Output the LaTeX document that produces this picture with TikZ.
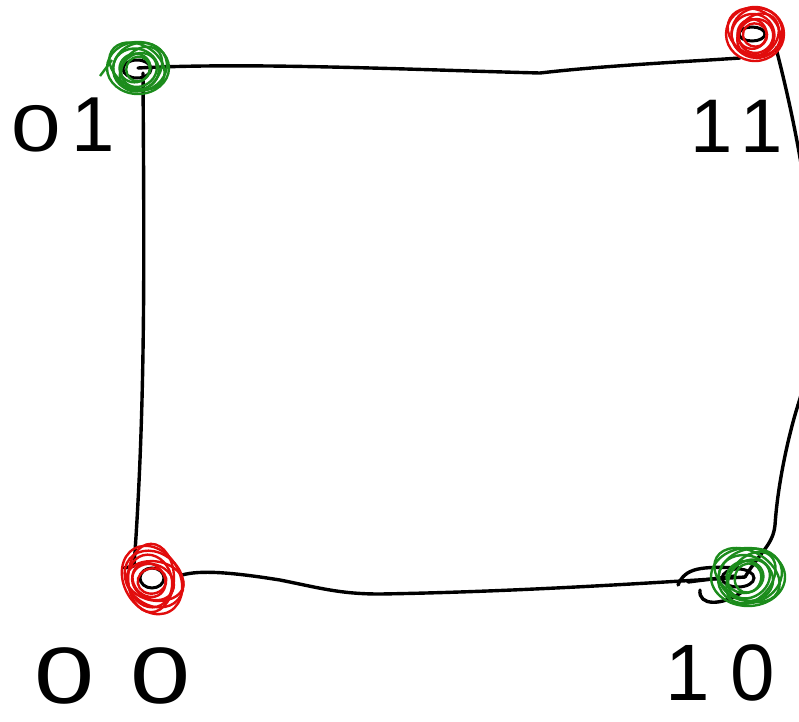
\documentclass[tikz,border=0pt]{standalone}
\usepackage{fontspec}
\usepackage{graphicx}
\setmainfont{Liberation Sans}
\definecolor{scred}{RGB}{225,12,12}
\definecolor{scgreen}{RGB}{28,140,28}
\newcommand\myscrib[6]{%
  \foreach \dx/\dy/\fa/\fb/\rr in {0/0/1/1/0, 2/-1/0.88/0.92/20, -2/1/0.74/0.78/-15, 1/2/0.6/0.62/35, -1/-2/0.95/0.82/-30, 3/1/0.8/0.7/50, -3/0/0.5/0.55/10, 0/1/0.4/0.45/70}
    \draw[#1, line width=2.4pt] (#2+\dx,#3+\dy) ellipse [x radius=\fa*#4, y radius=\fb*#5, rotate=#6+\rr];
}
\newcommand\wideo{\scalebox{1.35}[1]{0}}
\tikzset{
  sqedge/.style={black, line width=3.4pt, line cap=round, line join=round},
  inner/.style={black, line width=3pt},
  digit/.style={anchor=base, inner sep=0pt, text=black}
}
\begin{document}
\begin{tikzpicture}[x=1pt,y=-1pt]
\useasboundingbox (0,0) rectangle (799,721);
% corners
\coordinate (tl) at (138,68);
\coordinate (tr) at (754,36);
\coordinate (bl) at (152,579);
\coordinate (br) at (745,577);
\coordinate (r1) at (798,405);
% edges
\draw[sqedge] (tl) .. controls (250,62) and (420,70) .. (540,73) .. controls (600,66) and (680,62) .. (740,58);
\draw[sqedge] (tl) ++(5,5) .. controls (144,250) and (146,400) .. (134,566) -- (124,568);
\draw[sqedge] (tr) ++(22,12) .. controls (815,200) and (825,320) .. (r1);
\draw[sqedge] (r1) .. controls (790,430) and (778,480) .. (775,525) .. controls (773,545) and (760,552) .. (br);
\draw[sqedge] (bl) ++(30,-4) .. controls (200,570) and (230,572) .. (280,580) .. controls (320,588) and (340,594) .. (380,594) .. controls (500,592) and (620,585) .. (br);
% extra strokes near bottom-right
\draw[sqedge] (678,585) .. controls (685,568) and (700,566) .. (740,568);
\draw[sqedge] (688,582) -- (735,576);
\draw[sqedge] (700,590) .. controls (698,606) and (722,606) .. (742,592);
% inner black rings
\draw[inner] (137,69) ellipse [x radius=14, y radius=9];
\draw[inner] (752,34) ellipse [x radius=13, y radius=7];
\draw[inner] (152,578) ellipse [x radius=12, y radius=10];
\draw[inner] (738,578) ellipse [x radius=16, y radius=9];
% scribbles
\myscrib{scgreen}{138}{68}{31}{26}{0}
\draw[scgreen, line width=2.4pt] (100,76) -- (112,60);
\myscrib{scred}{755}{34}{29}{27}{0}
\myscrib{scred}{152}{580}{36}{28}{-60}
\myscrib{scgreen}{748}{577}{37}{29}{0}
% labels
\node[digit] (l01) at (63,151) {\fontsize{66}{66}\selectfont\wideo\hspace{10pt}\fontsize{78}{78}\selectfont 1};
\node[digit] (l11) at (736.5,152) {\fontsize{76}{76}\selectfont 1\hspace{8pt}1};
\node[digit] (l00) at (112.5,703) {\fontsize{80}{80}\selectfont\wideo\hspace{35pt}\wideo};
\node[digit] (l10) at (720,700) {\fontsize{80}{80}\selectfont 1\hspace{20pt}0};
\end{tikzpicture}
\end{document}
